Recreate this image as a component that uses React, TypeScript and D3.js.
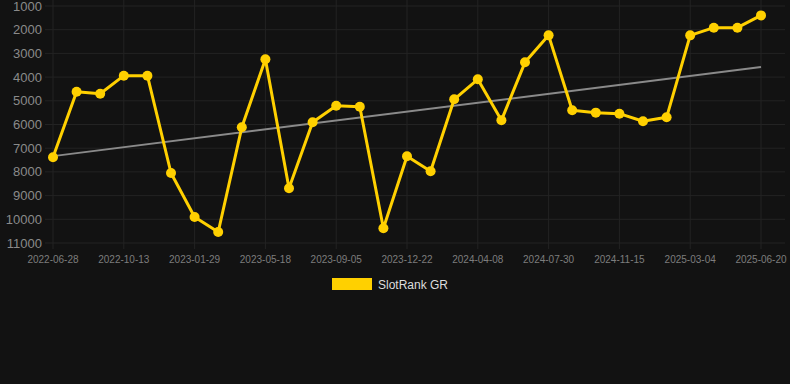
import React, { useEffect } from "react";
import * as d3 from "d3";

const tickLabels = [
  "2022-06-28", "2022-10-13", "2023-01-29", "2023-05-18", "2023-09-05", "2023-12-22",
  "2024-04-08", "2024-07-30", "2024-11-15", "2025-03-04", "2025-06-20",
];
const ranks = [
  7384, 4616, 4700, 3940, 3940, 8046, 9902, 10535, 6118, 3250,
  8692, 5908, 5206, 5248, 10380, 7342, 7975, 4937, 4093, 5824,
  3376, 2238, 5400, 5500, 5544, 5865, 5696, 2238, 1914, 1914, 1397,
];
const yTicks = [1000, 2000, 3000, 4000, 5000, 6000, 7000, 8000, 9000, 10000, 11000];
const seriesName = "SlotRank GR";

const W = 790, H = 384;
const BG = "#121212";
const GOLD = "#FFD000";

export default function App() {
  useEffect(() => {
    document.body.style.margin = "0";
    document.body.style.background = BG;
  }, []);

  const idx = ranks.map((_, i) => i);
  const x = d3.scaleLinear().domain([0, ranks.length - 1]).range([53, 761]);
  const y = d3.scaleLinear().domain([1000, 11000]).range([6, 243]);

  // linear regression trend
  const n = ranks.length;
  const mx = d3.mean(idx)!;
  const my = d3.mean(ranks)!;
  const slope = d3.sum(idx, (i) => (i - mx) * (ranks[i] - my)) / d3.sum(idx, (i) => (i - mx) ** 2);
  const icpt = my - slope * mx;
  const trend = [0, n - 1].map((i) => [x(i), y(icpt + slope * i)] as [number, number]);

  const line = d3.line<number>().x((_, i) => x(i)).y((d) => y(d));
  const tickIdx = tickLabels.map((_, k) => k * 3);

  return (
    <svg width={W} height={H} style={{ display: "block", background: BG, fontFamily: "'Liberation Sans', Arial, sans-serif" }}>
      <rect width={W} height={H} fill={BG} />
      {yTicks.map((t) => (
        <g key={t}>
          <line x1={45} x2={785} y1={y(t)} y2={y(t)} stroke="#232323" strokeWidth={1} />
          <text x={42} y={y(t)} dy="0.35em" textAnchor="end" fill="#8a8a8a" fontSize={13}>{t}</text>
        </g>
      ))}
      {tickIdx.map((i, k) => (
        <g key={i}>
          <line x1={x(i)} x2={x(i)} y1={0} y2={249} stroke="#232323" strokeWidth={1} />
          <text x={x(i)} y={263} textAnchor="middle" fill="#7d7d7d" fontSize={10}>{tickLabels[k]}</text>
        </g>
      ))}
      <line x1={trend[0][0]} y1={trend[0][1]} x2={trend[1][0]} y2={trend[1][1]} stroke="#8a8a8a" strokeWidth={2} />
      <path d={line(ranks) || ""} fill="none" stroke={GOLD} strokeWidth={3} strokeLinejoin="round" />
      {ranks.map((v, i) => (
        <circle key={i} cx={x(i)} cy={y(v)} r={5} fill={GOLD} />
      ))}
      <rect x={332} y={278} width={40} height={12} fill={GOLD} />
      <text x={378} y={288.5} fill="#dddddd" fontSize={12}>{seriesName}</text>
    </svg>
  );
}
